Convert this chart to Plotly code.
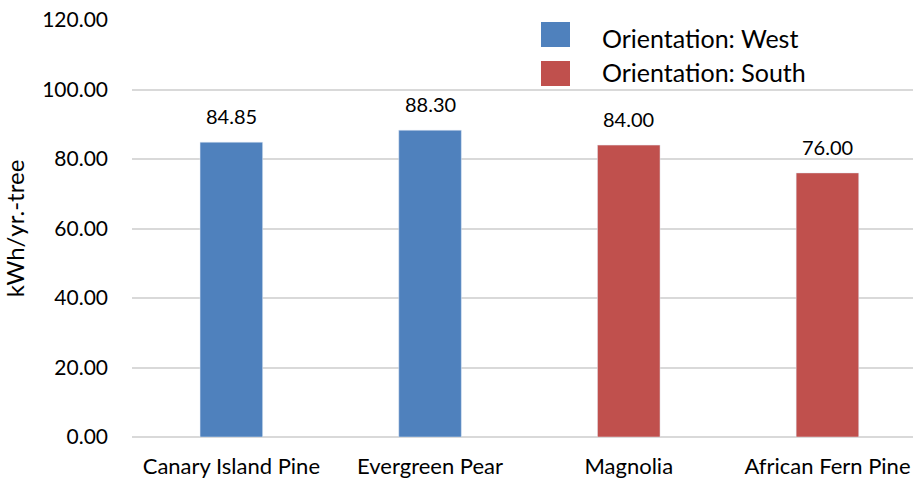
import plotly.graph_objects as go

categories = ["Canary Island Pine", "Evergreen Pear", "Magnolia", "African Fern Pine"]
west_cats = ["Canary Island Pine", "Evergreen Pear"]
west_vals = [84.85, 88.30]
south_cats = ["Magnolia", "African Fern Pine"]
south_vals = [84.00, 76.00]
series_names = ["Orientation: West", "Orientation: South"]
series_colors = ["#4F81BD", "#C0504D"]
y_ticks = [0, 20, 40, 60, 80, 100, 120]

W, H = 913, 479
ML, MR, MT, MB = 132, 0, 20, 42
PW, PH = W - ML - MR, H - MT - MB
FONT = "Lato"

fig = go.Figure()
fig.add_trace(go.Bar(x=west_cats, y=west_vals, name=series_names[0],
                     marker_color=series_colors[0], width=0.315, showlegend=False))
fig.add_trace(go.Bar(x=south_cats, y=south_vals, name=series_names[1],
                     marker_color=series_colors[1], width=0.315, showlegend=False))

annotations = []
for cats, vals in [(west_cats, west_vals), (south_cats, south_vals)]:
    for c, v in zip(cats, vals):
        annotations.append(dict(x=c, y=v, xref="x", yref="y", text=f"{v:.2f}",
                                showarrow=False, yanchor="bottom", yshift=12,
                                font=dict(family=FONT, size=20, color="#000000")))

def px2paper_x(px):
    return (px - ML) / PW

def px2paper_y(py):
    return (H - MB - py) / PH

shapes = []
legend_rows = [(22, 47, 38), (61, 86, 72)]
for (y0, y1, yc), name, col in zip(legend_rows, series_names, series_colors):
    shapes.append(dict(type="rect", xref="paper", yref="paper",
                       x0=px2paper_x(541), x1=px2paper_x(570),
                       y0=px2paper_y(y1), y1=px2paper_y(y0),
                       fillcolor=col, line=dict(width=0)))
    annotations.append(dict(x=px2paper_x(600), y=px2paper_y(yc), xref="paper", yref="paper",
                            text=name, showarrow=False, xanchor="left", yanchor="middle",
                            font=dict(family=FONT, size=25, color="#000000")))

fig.update_layout(
    width=W, height=H,
    margin=dict(l=ML, r=MR, t=MT, b=MB, pad=0),
    paper_bgcolor="white", plot_bgcolor="white",
    barmode="overlay",
    font=dict(family=FONT, size=20, color="#000000"),
    annotations=annotations, shapes=shapes,
    showlegend=False,
)
fig.update_xaxes(categoryorder="array", categoryarray=categories,
                 range=[-0.5, PW / 198.7 - 0.5], showgrid=False, showline=False,
                 zeroline=False, tickfont=dict(family=FONT, size=22, color="#000000"),
                 ticklabelstandoff=14)
fig.update_yaxes(range=[0, 120], tickvals=y_ticks, tickformat=".2f",
                 showgrid=True, gridcolor="#d9d9d9", gridwidth=1.5,
                 zeroline=True, zerolinecolor="#d9d9d9", zerolinewidth=1.5,
                 showline=False, tickfont=dict(family=FONT, size=21, color="#000000"),
                 ticklabelstandoff=23,
                 title=dict(text="kWh/yr.-tree", font=dict(family=FONT, size=24, color="#000000"),
                            standoff=12))

fig.write_html("out.html")
